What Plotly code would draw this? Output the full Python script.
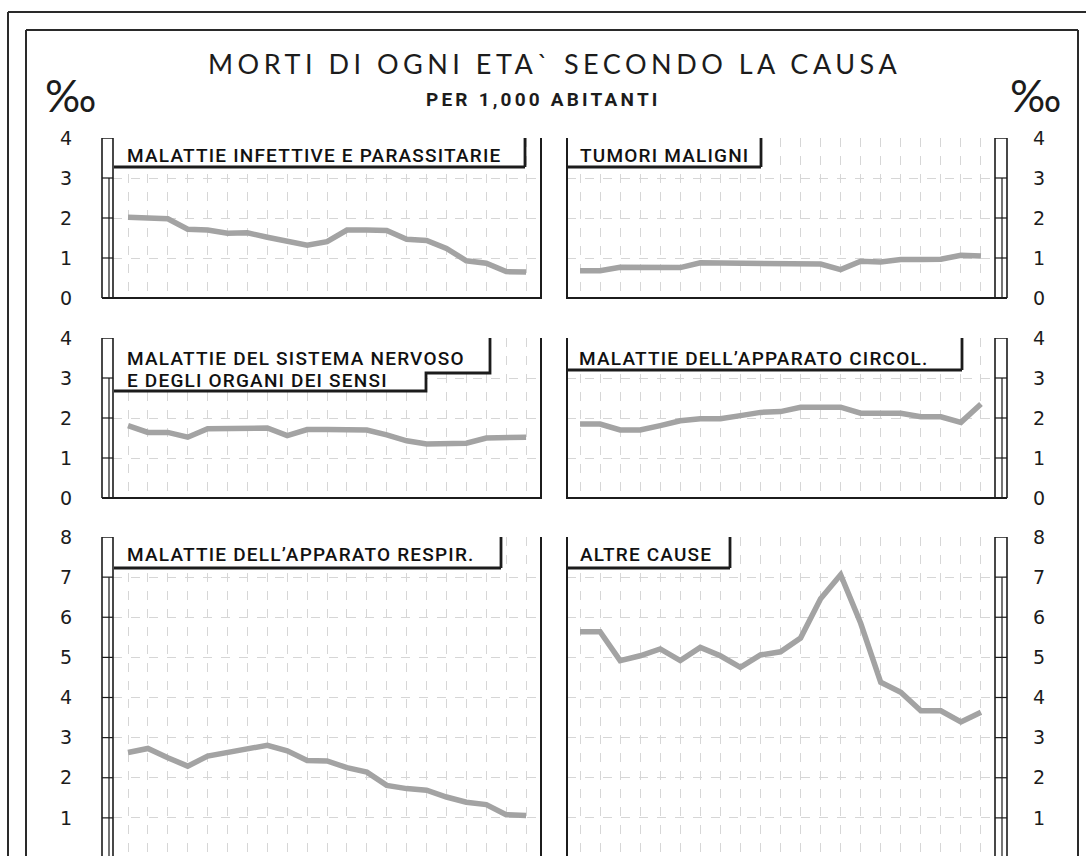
import plotly.graph_objects as go

# ---------------- data ----------------
years = list(range(1951, 1972))
infettive = [2.02, 2.00, 1.98, 1.72, 1.70, 1.62, 1.63, 1.52, 1.43, 1.32, 1.41,
             1.70, 1.70, 1.69, 1.47, 1.44, 1.24, 0.93, 0.87, 0.66, 0.65]
tumori = [0.68, 0.68, 0.77, 0.77, 0.76, 0.76, 0.88, 0.88, 0.88, 0.87, 0.87,
          0.87, 0.85, 0.71, 0.92, 0.90, 0.96, 0.96, 0.97, 1.07, 1.05]
nervoso = [1.81, 1.64, 1.64, 1.52, 1.73, 1.74, 1.74, 1.75, 1.56, 1.71, 1.71,
           1.70, 1.70, 1.58, 1.43, 1.35, 1.35, 1.37, 1.50, 1.50, 1.52]
circol = [1.85, 1.85, 1.70, 1.70, 1.81, 1.93, 1.98, 1.98, 2.06, 2.14, 2.16,
          2.27, 2.27, 2.27, 2.12, 2.13, 2.12, 2.03, 2.03, 1.89, 2.35]
respir = [2.63, 2.73, 2.50, 2.29, 2.54, 2.64, 2.71, 2.81, 2.67, 2.43, 2.42,
          2.25, 2.14, 1.81, 1.73, 1.69, 1.52, 1.39, 1.33, 1.08, 1.06]
altre = [5.64, 5.64, 4.92, 5.04, 5.21, 4.92, 5.25, 5.04, 4.75, 5.06, 5.14,
         5.48, 6.46, 7.06, 5.85, 4.38, 4.13, 3.67, 3.67, 3.39, 3.63]

label_infettive = "MALATTIE INFETTIVE E PARASSITARIE"
label_tumori = "TUMORI MALIGNI"
label_nervoso = ["MALATTIE DEL SISTEMA NERVOSO", "E DEGLI ORGANI DEI SENSI"]
label_circol = "MALATTIE DELL\u2019APPARATO CIRCOL."
label_respir = "MALATTIE DELL\u2019APPARATO RESPIR."
label_altre = "ALTRE CAUSE"

title_text = "MORTI DI OGNI ETA` SECONDO LA CAUSA"
subtitle_text = "PER 1,000 ABITANTI"
unit_text = "\u2030"

# ---------------- layout helpers ----------------
W, H = 1086, 856
def px(x):
    return x / W
def py(y):
    return 1 - y / H

LINE_COLOR = "#a3a3a3"
INK = "#1c1c1c"
GRID = "#d6d6d6"

cols = {
    0: dict(x0=113, x1=541, rng=[years[0] - 0.754, years[-1] + 0.75], side="left"),
    1: dict(x0=567, x1=995, rng=[years[0] - 0.65, years[-1] + 0.70], side="right"),
}
rows = {
    0: dict(y0=138, y1=298, rng=[0, 4], top=4),
    1: dict(y0=338, y1=498, rng=[0, 4], top=4),
    2: dict(y0=537, y1=856, rng=[0.05, 8], top=8),
}

series = [
    (infettive, 0, 0),
    (tumori, 0, 1),
    (nervoso, 1, 0),
    (circol, 1, 1),
    (respir, 2, 0),
    (altre, 2, 1),
]

fig = go.Figure()
layout = dict(
    width=W, height=H, autosize=False,
    margin=dict(l=0, r=0, t=0, b=0, pad=0, autoexpand=False),
    paper_bgcolor="white", plot_bgcolor="white",
    showlegend=False,
)
shapes = []
annotations = []

for k, (vals, r, c) in enumerate(series, start=1):
    cc, rr = cols[c], rows[r]
    xa = "x" if k == 1 else f"x{k}"
    ya = "y" if k == 1 else f"y{k}"
    fig.add_trace(go.Scatter(
        x=years, y=vals, mode="lines",
        line=dict(color=LINE_COLOR, width=5.5),
        xaxis=xa, yaxis=ya, hoverinfo="skip",
    ))
    layout[f"xaxis{'' if k == 1 else k}"] = dict(
        domain=[px(cc["x0"]), px(cc["x1"])], range=cc["rng"],
        anchor=ya, showticklabels=False, ticks="", automargin=False,
        showgrid=True, gridcolor=GRID, gridwidth=1, griddash="dash",
        dtick=1, tick0=years[0], zeroline=False, showline=False, fixedrange=True,
    )
    layout[f"yaxis{'' if k == 1 else k}"] = dict(
        domain=[py(rr["y1"]), py(rr["y0"])], range=rr["rng"],
        anchor=xa, side=cc["side"], ticks="", automargin=False,
        showgrid=True, gridcolor=GRID, gridwidth=1, griddash="dash",
        dtick=1, tick0=0, zeroline=False, showline=False, fixedrange=True,
        tickfont=dict(family="DejaVu Sans", size=19, color=INK),
        ticklabelstandoff=40 if c == 0 else 37,
    )

    yb = rr["y1"]
    if c == 0:
        bar0, bar1, inner = 102, 113, 109
        edge = 541
        bl0, bl1 = 102, 541
    else:
        bar0, bar1, inner = 995, 1007, 1002
        edge = 567
        bl0, bl1 = 567, 1007
    # scale bar
    shapes.append(dict(type="rect", xref="paper", yref=ya,
                       x0=px(bar0), x1=px(bar1), y0=rr["rng"][0] - 0.2, y1=rr["top"],
                       line=dict(color=INK, width=1.6), layer="above"))
    shapes.append(dict(type="line", xref="paper", yref=ya,
                       x0=px(inner), x1=px(inner), y0=rr["rng"][0] - 0.2, y1=rr["top"] - 1,
                       line=dict(color=INK, width=1.2), layer="above"))
    for t in range(1, rr["top"]):
        shapes.append(dict(type="line", xref="paper", yref=ya,
                           x0=px(bar0), x1=px(bar1), y0=t, y1=t,
                           line=dict(color=INK, width=1.2), layer="above"))
    # vertical edge
    shapes.append(dict(type="line", xref="paper", yref="paper",
                       x0=px(edge), x1=px(edge), y0=py(yb + 1), y1=py(rr["y0"]),
                       line=dict(color=INK, width=2), layer="above"))
    # bottom line
    if r < 2:
        shapes.append(dict(type="line", xref="paper", yref="paper",
                           x0=px(bl0), x1=px(bl1), y0=py(yb), y1=py(yb),
                           line=dict(color=INK, width=2), layer="above"))

fig.update_layout(**layout)

# ---------------- label boxes ----------------
LSIZE = 19
LFONT = dict(family="Roboto", size=LSIZE, color="#111111", weight=500)
def spaced(txt, ls, size):
    return f'<span style="letter-spacing:{ls}px;font-size:{size}px">{txt}</span>'

def label_box(x0, x1, y0, y1, text, tx, ty, ls=1.2):
    shapes.append(dict(type="rect", xref="paper", yref="paper",
                       x0=px(x0), x1=px(x1), y0=py(y1), y1=py(y0),
                       fillcolor="white", line=dict(width=0), layer="above"))
    shapes.append(dict(type="line", xref="paper", yref="paper",
                       x0=px(x0), x1=px(x1), y0=py(y1), y1=py(y1),
                       line=dict(color=INK, width=2.8), layer="above"))
    shapes.append(dict(type="line", xref="paper", yref="paper",
                       x0=px(x1), x1=px(x1), y0=py(y1), y1=py(y0),
                       line=dict(color=INK, width=2.8), layer="above"))
    annotations.append(dict(xref="paper", yref="paper", x=px(tx), y=py(ty),
                            xanchor="left", yanchor="middle", showarrow=False,
                            text=spaced(text, ls, LSIZE), font=LFONT))

label_box(114, 525, 138, 167, label_infettive, 125, 155)
label_box(568, 761, 138, 167, label_tumori, 578, 155)
label_box(568, 962, 338, 370, label_circol, 577, 358)
label_box(114, 501, 537, 568, label_respir, 125, 554)
label_box(568, 730, 537, 568, label_altre, 578, 554)

# step-shaped box for the nervous-system panel
path = (f"M {px(114)},{py(338)} L {px(490)},{py(338)} L {px(490)},{py(373)} "
        f"L {px(426)},{py(373)} L {px(426)},{py(391)} L {px(114)},{py(391)} Z")
shapes.append(dict(type="path", xref="paper", yref="paper", path=path,
                   fillcolor="white", line=dict(width=0), layer="above"))
edge_path = (f"M {px(114)},{py(391)} L {px(426)},{py(391)} L {px(426)},{py(373)} "
             f"L {px(490)},{py(373)} L {px(490)},{py(338)}")
shapes.append(dict(type="path", xref="paper", yref="paper", path=edge_path,
                   line=dict(color=INK, width=2.8), layer="above"))
annotations.append(dict(xref="paper", yref="paper", x=px(125), y=py(358),
                        xanchor="left", yanchor="middle", showarrow=False,
                        text=spaced(label_nervoso[0], 1.2, LSIZE), font=LFONT))
annotations.append(dict(xref="paper", yref="paper", x=px(125), y=py(380),
                        xanchor="left", yanchor="middle", showarrow=False,
                        text=spaced(label_nervoso[1], 1.2, LSIZE), font=LFONT))

# ---------------- outer frames ----------------
for (x0, y0, x1, y1) in [(8, 12, 1086, 12), (8, 12, 8, 856),
                         (26, 30, 1078, 30), (26, 30, 26, 856), (1078, 30, 1078, 856)]:
    shapes.append(dict(type="line", xref="paper", yref="paper",
                       x0=px(x0), x1=px(x1), y0=py(y0), y1=py(y1),
                       line=dict(color="#2a2a2a", width=2), layer="above"))

# ---------------- titles ----------------
annotations.append(dict(xref="paper", yref="paper", x=px(554), y=py(63),
                        xanchor="center", yanchor="middle", showarrow=False,
                        text=spaced(title_text, 4.5, 27),
                        font=dict(family="Lato", size=27, color=INK)))
annotations.append(dict(xref="paper", yref="paper", x=px(543), y=py(99),
                        xanchor="center", yanchor="middle", showarrow=False,
                        text="<b>" + spaced(subtitle_text, 3.2, 19) + "</b>",
                        font=dict(family="Roboto", size=19, color=INK)))
annotations.append(dict(xref="paper", yref="paper", x=px(70), y=py(95),
                        xanchor="center", yanchor="middle", showarrow=False,
                        text=unit_text,
                        font=dict(family="Lato", size=44, color=INK)))
annotations.append(dict(xref="paper", yref="paper", x=px(1035), y=py(95),
                        xanchor="center", yanchor="middle", showarrow=False,
                        text=unit_text,
                        font=dict(family="Lato", size=44, color=INK)))

fig.update_layout(shapes=shapes, annotations=annotations)
fig.write_html("out.html",
               config={"displayModeBar": False, "staticPlot": True},
               post_script="document.body.style.margin='0';document.body.style.overflow='hidden';")
